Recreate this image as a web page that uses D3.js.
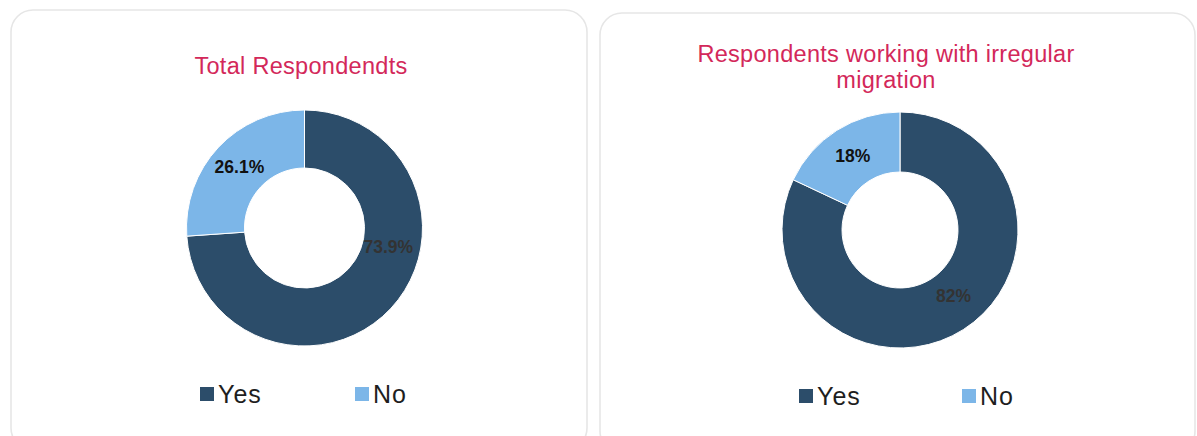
<!DOCTYPE html>
<html>
<head>
<meta charset="utf-8">
<script src="https://cdn.jsdelivr.net/npm/d3@7"></script>
<style>
  html, body { margin: 0; padding: 0; background: #ffffff; }
  svg { display: block; font-family: "Liberation Sans", Arial, sans-serif; }
</style>
</head>
<body>
<svg id="chart" width="1197" height="436"></svg>
<script>
// ---- data ----
const categories = ["Yes", "No"];
const totalValues = [73.9, 26.1];
const irregularValues = [82, 18];
const totalLabels = ["73.9%", "26.1%"];
const irregularLabels = ["82%", "18%"];
const titleTotal = ["Total Respondendts"];
const titleIrregular = ["Respondents working with irregular", "migration"];

// ---- styles ----
const colors = d3.scaleOrdinal().domain(categories).range(["#2c4d6a", "#7cb6e8"]);
const titleColor = "#d3285a";

const svg = d3.select("#chart");

const panels = [
  { card: [11, 10, 576, 440], cx: 304.5, cy: 228, outer: 118, inner: 60,
    title: titleTotal, titleX: 301, titleY: 74,
    values: totalValues, labels: totalLabels,
    labelAngleOverride: { 0: 103 }, labelColors: ["#333333", "#111111"],
    legendX: [200, 355], legendY: 394 },
  { card: [600, 13, 595, 440], cx: 900, cy: 230, outer: 118, inner: 58,
    title: titleIrregular, titleX: 886, titleY: 62,
    values: irregularValues, labels: irregularLabels,
    labelAngleOverride: { 0: 141 }, labelColors: ["#333333", "#111111"],
    legendX: [799, 962], legendY: 396 }
];

panels.forEach(p => {
  // card
  svg.append("rect")
    .attr("x", p.card[0]).attr("y", p.card[1])
    .attr("width", p.card[2]).attr("height", p.card[3])
    .attr("rx", 22).attr("ry", 22)
    .attr("fill", "#ffffff")
    .attr("stroke", "#e6e6e6").attr("stroke-width", 1.6);

  // title
  const t = svg.append("text")
    .attr("x", p.titleX).attr("y", p.titleY)
    .attr("text-anchor", "middle")
    .attr("fill", titleColor)
    .style("font-size", "23.5px")
    .style("letter-spacing", "0.3px");
  p.title.forEach((line, i) => {
    t.append("tspan").attr("x", p.titleX).attr("dy", i === 0 ? 0 : 26).text(line);
  });

  const data = categories.map((c, i) => ({ cat: c, value: p.values[i], label: p.labels[i], idx: i }));
  const pie = d3.pie().value(d => d.value).sort(null);
  const arcs = pie(data);
  const arc = d3.arc().innerRadius(p.inner).outerRadius(p.outer);
  const g = svg.append("g").attr("transform", `translate(${p.cx},${p.cy})`);

  g.selectAll("path").data(arcs).join("path")
    .attr("d", arc)
    .attr("fill", d => colors(d.data.cat))
    .attr("stroke", "#ffffff").attr("stroke-width", 1);

  const midR = (p.inner + p.outer) / 2;
  g.selectAll("text.lbl").data(arcs).join("text")
    .attr("class", "lbl")
    .attr("transform", d => {
      let pos;
      if (p.labelAngleOverride[d.index] !== undefined) {
        const a = p.labelAngleOverride[d.index] * Math.PI / 180;
        const r = midR - 3;
        pos = [Math.sin(a) * r, -Math.cos(a) * r];
      } else {
        pos = arc.centroid(d);
      }
      return `translate(${pos[0]},${pos[1]})`;
    })
    .attr("text-anchor", "middle")
    .attr("dominant-baseline", "central")
    .attr("fill", d => p.labelColors[d.index])
    .style("font-size", "17.5px")
    .style("font-weight", "bold")
    .text(d => d.data.label);

  // legend
  categories.forEach((c, i) => {
    svg.append("rect")
      .attr("x", p.legendX[i]).attr("y", p.legendY - 7)
      .attr("width", 14).attr("height", 14)
      .attr("fill", colors(c));
    svg.append("text")
      .attr("x", p.legendX[i] + 18).attr("y", p.legendY)
      .attr("dominant-baseline", "central")
      .attr("fill", "#1e1e1e")
      .style("font-size", "25px")
      .style("letter-spacing", "1px")
      .text(c);
  });
});
</script>
</body>
</html>
